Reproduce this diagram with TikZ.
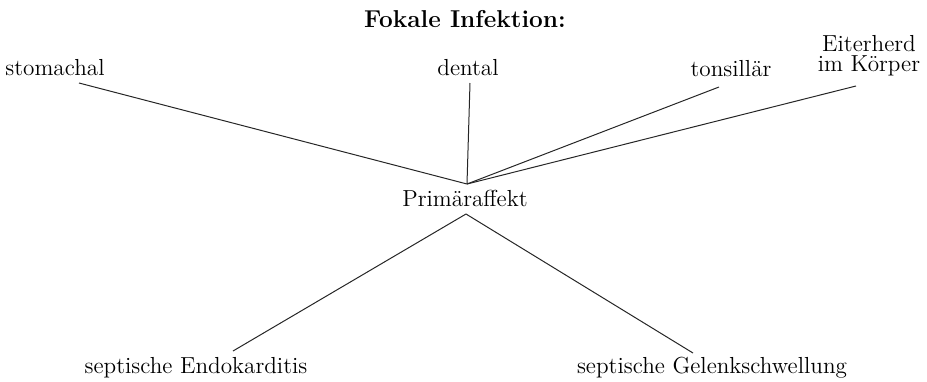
\documentclass[tikz,border=0pt]{standalone}
\begin{document}
\begin{tikzpicture}[x=0.5pt,y=-0.5pt,
  lab/.style={inner sep=0pt,font=\fontsize{11.6}{10}\selectfont},
  conn/.style={line width=0.5pt,black!85}]
\useasboundingbox (0,0) rectangle (927,381);
\node[inner sep=0pt,font=\fontsize{12.2}{14}\selectfont\bfseries] (title) at (465,19) {Fokale Infektion:};
\node[lab] (stom) at (55,68) {stomachal};
\node[lab] (dent) at (468,68) {dental};
\node[lab] (tons) at (731,69) {tonsillär};
\node[lab,align=center] (eiter) at (869,56) {Eiterherd\\im Körper};
\node[lab] (prim) at (465,198) {Primäraffekt};
\node[lab] (endo) at (196,368) {septische Endokarditis};
\node[lab] (gel) at (712,368) {septische Gelenkschwellung};
\coordinate (s1) at (79,83);
\coordinate (d1) at (470,83);
\coordinate (t1) at (719,87);
\coordinate (e1) at (856,86);
\coordinate (pt) at (467,184);
\coordinate (pb) at (466,214);
\coordinate (en1) at (233,351);
\coordinate (ge1) at (693,353);
\draw[conn] (s1) -- (pt);
\draw[conn] (d1) -- (pt);
\draw[conn] (t1) -- (pt);
\draw[conn] (e1) -- (pt);
\draw[conn] (pb) -- (en1);
\draw[conn] (pb) -- (ge1);
\end{tikzpicture}
\end{document}
